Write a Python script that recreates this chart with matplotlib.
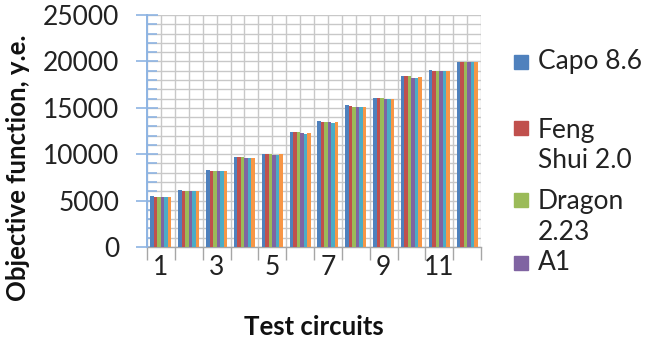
import matplotlib
matplotlib.use("Agg")
import matplotlib.pyplot as plt
from matplotlib.patches import Rectangle
from matplotlib.ticker import MultipleLocator, FixedLocator, NullFormatter
import numpy as np

plt.rcParams['font.family'] = ['Lato', 'DejaVu Sans']

# Test circuit numbers and objective function values per tool
circuits = list(range(1, 13))
series_names = ["Capo 8.6", "Feng\nShui 2.0", "Dragon\n2.23", "A1", "", ""]
capo = [5450, 6150, 8300, 9730, 10050, 12390, 13610, 15300, 16100, 18430, 19070, 19970]
feng_shui = [5400, 6050, 8150, 9650, 9980, 12350, 13500, 15170, 16020, 18400, 18960, 19950]
dragon = [5400, 6050, 8150, 9650, 9980, 12350, 13480, 15120, 16020, 18380, 18960, 19950]
a1 = [5400, 6030, 8150, 9600, 9950, 12250, 13420, 15080, 15950, 18230, 18950, 19950]
series5 = [5400, 6030, 8150, 9580, 9950, 12200, 13400, 15050, 15950, 18200, 18930, 19950]
series6 = [5400, 6030, 8150, 9580, 10050, 12320, 13420, 15050, 15950, 18300, 18930, 19950]
all_series = [capo, feng_shui, dragon, a1, series5, series6]
colors = ["#4F81BD", "#C0504D", "#9BBB59", "#8064A2", "#4BACC6", "#F79646"]

W, H = 647, 343
fig = plt.figure(figsize=(W / 100, H / 100), dpi=100)

def fx(px):
    return px / W

def fy(py):
    return 1 - py / H

left, right, top, bottom = 147, 481, 15, 247
ax = fig.add_axes([fx(left), fy(bottom), fx(right - left), (bottom - top) / H])

n = len(all_series)
group_w = 0.755
bw = group_w / n
x = np.arange(len(circuits))
for i, (vals, c) in enumerate(zip(all_series, colors)):
    ax.bar(x - group_w / 2 + bw * (i + 0.5), vals, width=bw, color=c,
           edgecolor='none', zorder=3)

ax.set_xlim(-0.5, len(circuits) - 0.5)
ax.set_ylim(0, 25000)

# gridlines: horizontal every 1000, vertical at every half category
for yv in range(0, 25001, 1000):
    ax.axhline(yv, color="#C8C8C8", lw=1.0, zorder=1)
for xv in np.arange(-0.5, len(circuits), 0.5):
    ax.axvline(xv, color="#C8C8C8", lw=1.0, zorder=1)

ax.yaxis.set_major_locator(MultipleLocator(5000))
ax.yaxis.set_minor_locator(MultipleLocator(1000))
ax.tick_params(axis='y', which='major', direction='inout', length=16,
               width=1.2, color="#8EB4E3", labelsize=19, pad=12,
               labelcolor="#222222")
ax.tick_params(axis='y', which='minor', direction='in', length=7,
               width=1.2, color="#8EB4E3")

ax.xaxis.set_major_locator(FixedLocator(x[::2]))
ax.set_xticklabels([str(c) for c in circuits[::2]])
ax.xaxis.set_minor_locator(FixedLocator(np.arange(-0.5, len(circuits), 1.0)))
ax.xaxis.set_minor_formatter(NullFormatter())
ax.tick_params(axis='x', which='major', length=0, labelsize=19, pad=6,
               labelcolor="#222222")
ax.tick_params(axis='x', which='minor', direction='out', length=9,
               width=1.0, color="#A6A6A6")

for s in ['top', 'right']:
    ax.spines[s].set_visible(False)
ax.spines['left'].set_color("#8EB4E3")
ax.spines['left'].set_linewidth(1.4)
ax.spines['bottom'].set_color("#A6A6A6")
ax.spines['bottom'].set_linewidth(1.0)
ax.spines['left'].set_zorder(4)

fig.text(fx(314), fy(327), "Test circuits", ha='center', va='center',
         fontsize=18.5, fontweight='bold', color="#111111")
fig.text(fx(18), fy(168), "Objective function, y.e.", ha='center',
         va='center', rotation=90, fontsize=18.5, fontweight='bold',
         color="#111111")

# legend, listing the first four tools
legend_rows = [(62, 62), (128, 145), (200, 217), (263, 263)]
sq = 14
for (sq_y, txt_y), name, c in zip(legend_rows, series_names[:4], colors[:4]):
    fig.patches.append(Rectangle((fx(514), fy(sq_y + sq / 2)), sq / W, sq / H,
                                 transform=fig.transFigure, color=c))
    fig.text(fx(538), fy(txt_y), name, ha='left', va='center', fontsize=19,
             color="#222222", linespacing=1.25)

fig.savefig("out.png", dpi=100)
